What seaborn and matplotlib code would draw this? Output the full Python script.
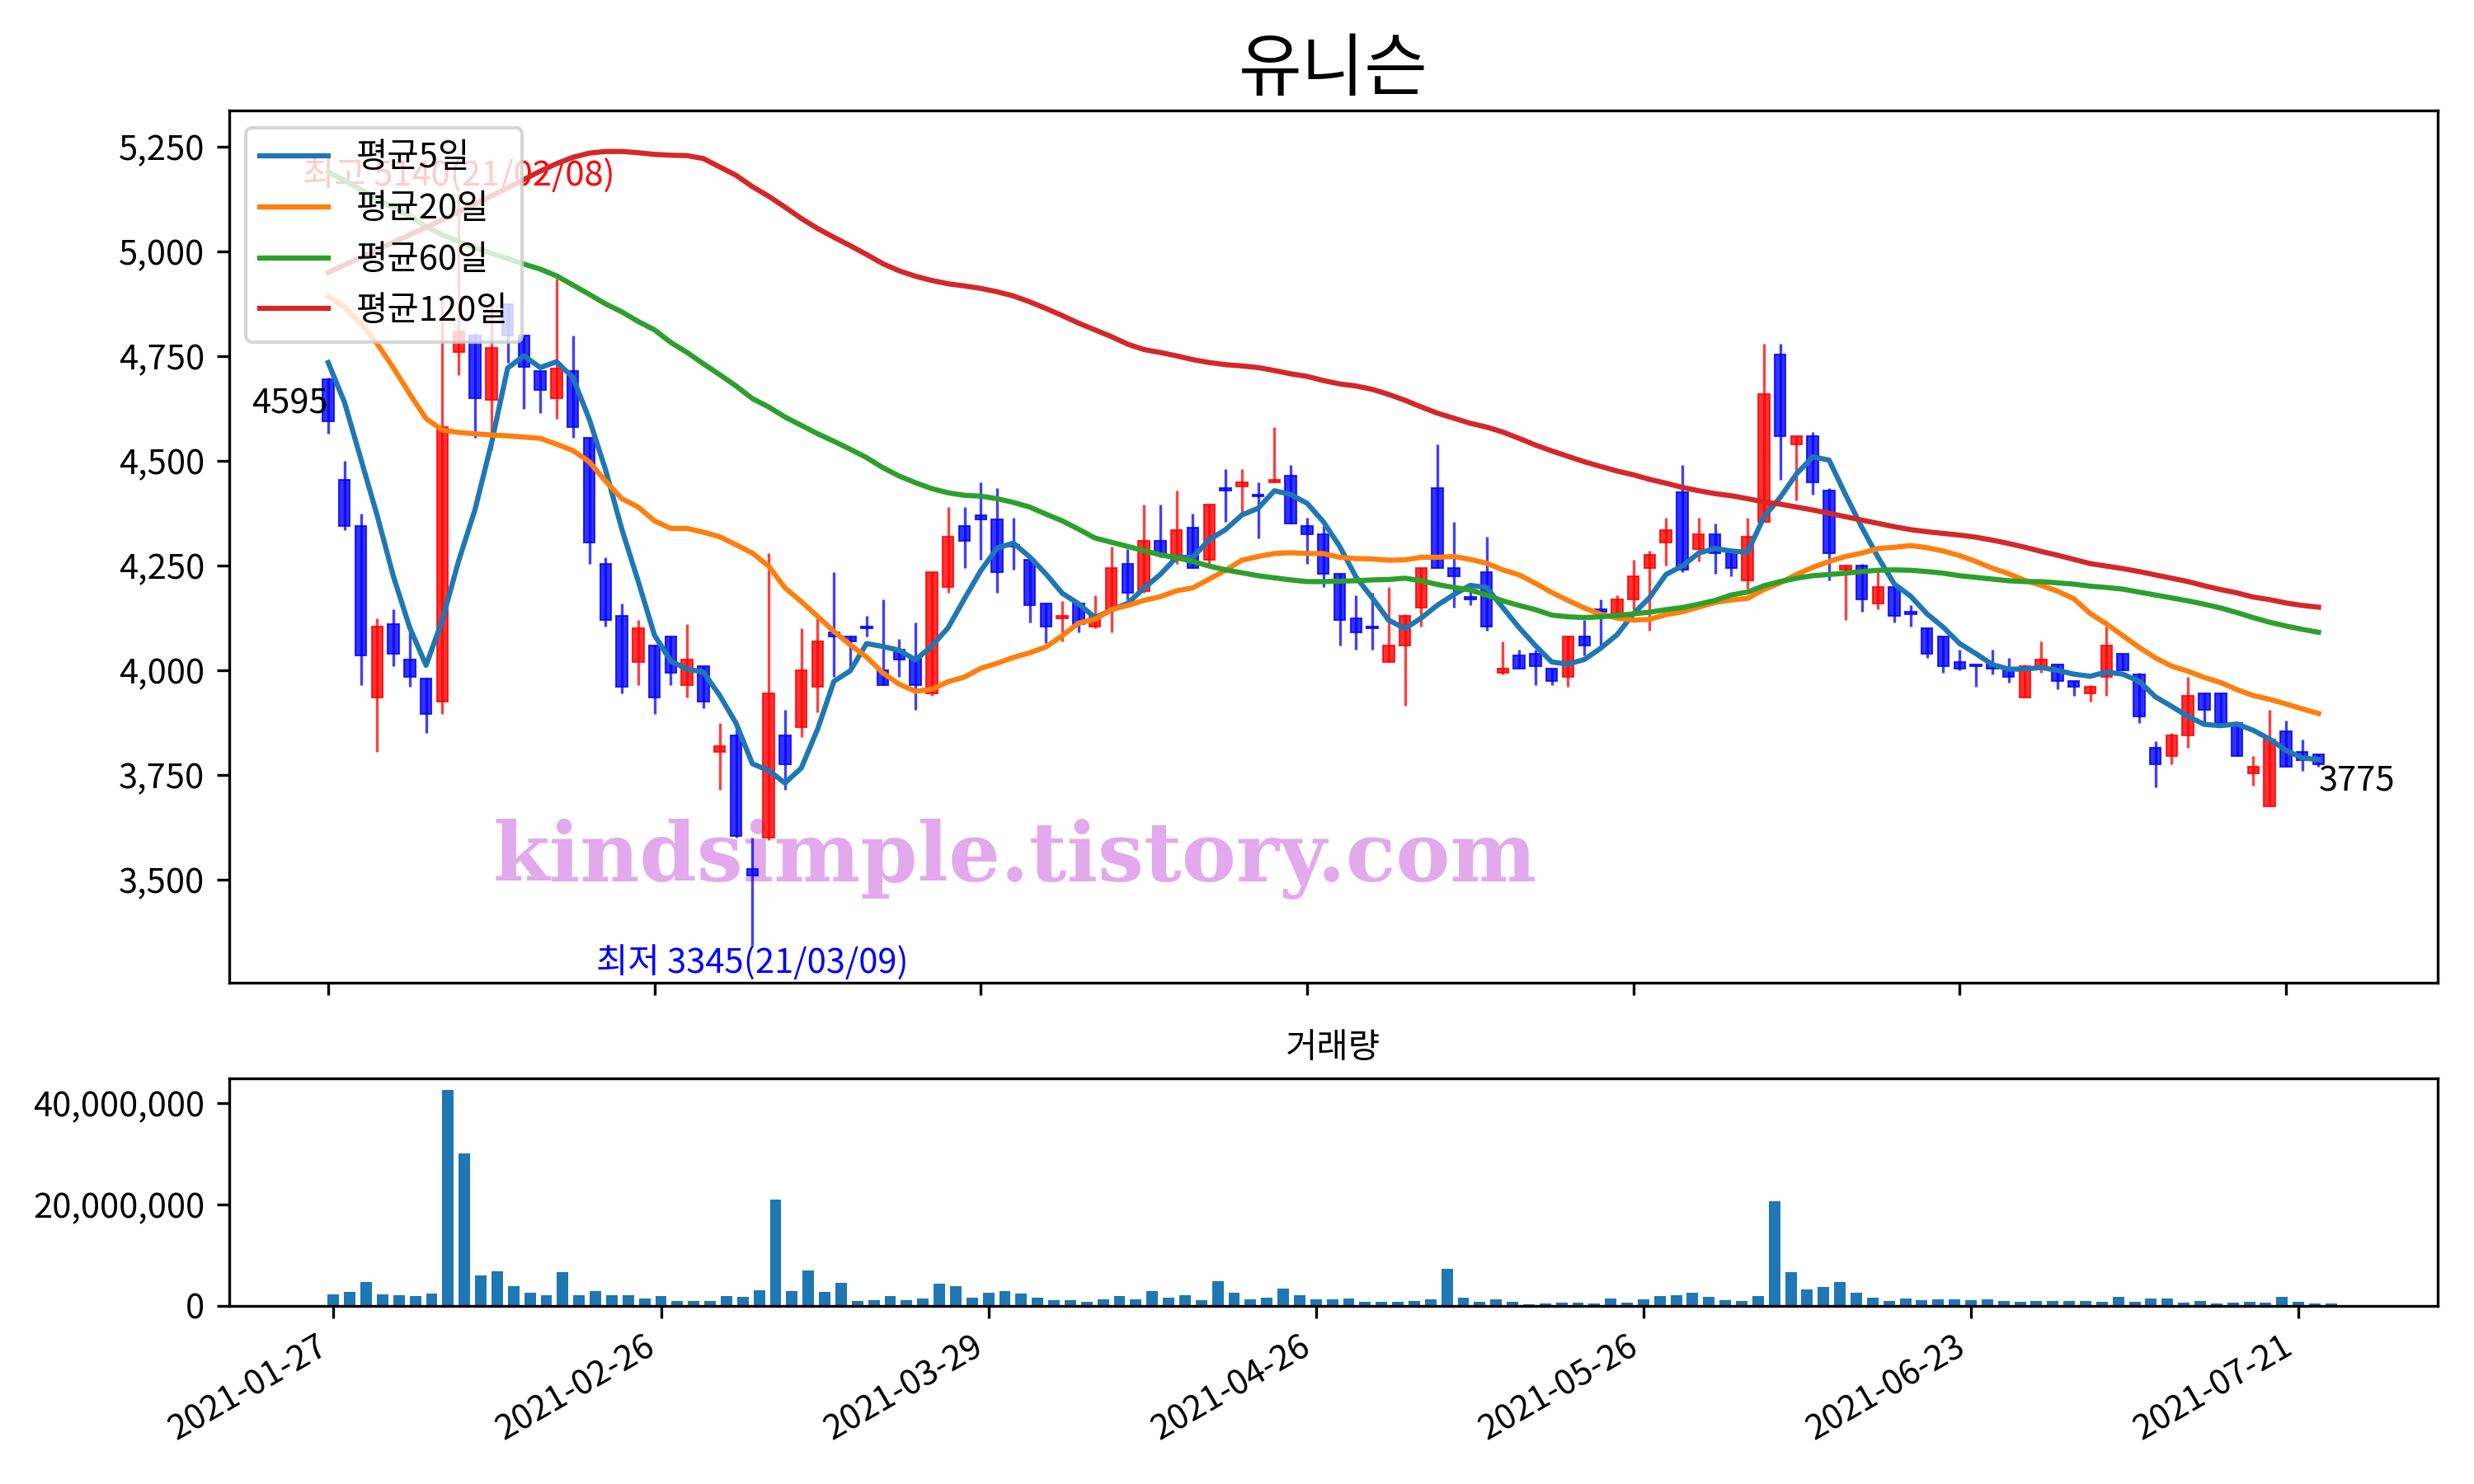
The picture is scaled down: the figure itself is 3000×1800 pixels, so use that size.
import numpy as np
import pandas as pd
import matplotlib
matplotlib.use('Agg')
import matplotlib.pyplot as plt
import seaborn as sns
from matplotlib.ticker import FuncFormatter

plt.rcParams['font.family'] = ['Noto Sans CJK KR', 'DejaVu Sans']
plt.rcParams['axes.unicode_minus'] = False

title = '유니슨'

# daily candles (2021-01-27 ~ 2021-07-23)
opens = [4695, 4455, 4345, 3935, 4110, 4025, 3980, 3925, 4760, 4800,
         4645, 4875, 4800, 4715, 4650, 4715, 4555, 4255, 4130, 4020,
         4060, 4080, 3965, 4010, 3805, 3845, 3525, 3600, 3845, 3865,
         3960, 4090, 4080, 4105, 4000, 4050, 4030, 3945, 4200, 4345,
         4370, 4360, 4300, 4265, 4160, 4125, 4160, 4105, 4145, 4255,
         4190, 4310, 4265, 4340, 4265, 4435, 4440, 4420, 4450, 4465,
         4345, 4325, 4230, 4125, 4105, 4020, 4060, 4150, 4435, 4245,
         4175, 4235, 3995, 4035, 4040, 4005, 3985, 4080, 4145, 4135,
         4170, 4245, 4305, 4425, 4290, 4325, 4280, 4215, 4355, 4755,
         4540, 4560, 4430, 4240, 4250, 4160, 4200, 4140, 4100, 4080,
         4020, 4015, 4015, 4000, 3935, 4010, 4015, 3975, 3945, 3985,
         4040, 3990, 3815, 3795, 3845, 3945, 3945, 3875, 3755, 3675,
         3855, 3805, 3800]
highs = [4700, 4500, 4375, 4125, 4145, 4095, 3980, 4895, 5140, 4805,
         4880, 4875, 4800, 4715, 4935, 4800, 4555, 4270, 4160, 4120,
         4060, 4080, 4110, 4010, 3875, 3860, 3600, 4280, 3905, 4100,
         4130, 4235, 4080, 4130, 4170, 4075, 4115, 4235, 4390, 4390,
         4450, 4435, 4365, 4265, 4160, 4165, 4160, 4180, 4295, 4290,
         4395, 4395, 4430, 4375, 4395, 4480, 4480, 4450, 4580, 4490,
         4365, 4345, 4230, 4180, 4185, 4200, 4135, 4245, 4540, 4355,
         4205, 4320, 4070, 4050, 4050, 4005, 4080, 4120, 4170, 4180,
         4265, 4285, 4365, 4490, 4365, 4350, 4280, 4365, 4780, 4780,
         4560, 4570, 4435, 4250, 4255, 4235, 4200, 4155, 4100, 4080,
         4050, 4015, 4050, 4030, 4015, 4070, 4015, 3975, 3965, 4105,
         4040, 3995, 3830, 3850, 3985, 3945, 3945, 3875, 3795, 3905,
         3880, 3835, 3800]
lows = [4565, 4335, 3965, 3805, 4010, 3960, 3850, 3895, 4705, 4555,
        4525, 4735, 4625, 4615, 4600, 4555, 4255, 4105, 3945, 3965,
        3895, 3965, 3935, 3910, 3715, 3600, 3345, 3595, 3715, 3840,
        3900, 3985, 4005, 4080, 3965, 3985, 3905, 3940, 4185, 4245,
        4265, 4185, 4240, 4115, 4065, 4070, 4090, 4100, 4090, 4170,
        4185, 4270, 4255, 4245, 4255, 4355, 4375, 4315, 4450, 4350,
        4255, 4200, 4060, 4050, 4050, 4020, 3915, 4105, 4245, 4150,
        4155, 4095, 3990, 4005, 3965, 3965, 3960, 4035, 4050, 4130,
        4145, 4095, 4250, 4235, 4260, 4230, 4225, 4195, 4355, 4455,
        4405, 4420, 4215, 4120, 4140, 4145, 4115, 4105, 4030, 3995,
        4000, 3960, 3990, 3970, 3935, 3995, 3955, 3940, 3925, 3940,
        4000, 3875, 3720, 3775, 3815, 3875, 3875, 3795, 3725, 3675,
        3770, 3760, 3770]
closes = [4595, 4345, 4035, 4105, 4040, 3985, 3895, 4580, 4810, 4650,
          4770, 4800, 4725, 4670, 4720, 4580, 4305, 4120, 3960, 4100,
          3935, 3995, 4025, 3925, 3820, 3605, 3510, 3945, 3775, 4000,
          4070, 4080, 4070, 4100, 3965, 4025, 3965, 4235, 4320, 4310,
          4360, 4235, 4295, 4155, 4105, 4130, 4110, 4130, 4245, 4185,
          4310, 4275, 4335, 4245, 4395, 4430, 4450, 4415, 4455, 4350,
          4325, 4230, 4120, 4090, 4100, 4060, 4130, 4245, 4245, 4225,
          4170, 4105, 4005, 4005, 4010, 3975, 4080, 4060, 4140, 4170,
          4225, 4275, 4335, 4240, 4325, 4280, 4245, 4320, 4660, 4560,
          4560, 4450, 4280, 4250, 4170, 4200, 4130, 4135, 4040, 4010,
          4005, 4010, 4005, 3985, 4010, 4025, 3975, 3960, 3960, 4060,
          4000, 3890, 3775, 3845, 3940, 3905, 3875, 3795, 3770, 3835,
          3770, 3785, 3775]

# moving averages as drawn on the chart
ma5 = [4735, 4640, 4505, 4370, 4224, 4102, 4012, 4121, 4262, 4384,
       4541, 4722, 4751, 4723, 4737, 4699, 4600, 4479, 4337, 4213,
       4084, 4022, 4003, 3996, 3940, 3874, 3777, 3761, 3731, 3767,
       3860, 3974, 3999, 4064, 4057, 4048, 4025, 4058, 4102, 4171,
       4238, 4292, 4304, 4271, 4230, 4184, 4159, 4126, 4144, 4160,
       4196, 4229, 4270, 4270, 4312, 4336, 4371, 4387, 4429, 4420,
       4399, 4355, 4296, 4223, 4173, 4120, 4100, 4125, 4156, 4181,
       4203, 4198, 4150, 4102, 4059, 4020, 4015, 4026, 4053, 4085,
       4135, 4174, 4229, 4249, 4280, 4291, 4285, 4282, 4366, 4413,
       4469, 4510, 4502, 4420, 4342, 4270, 4206, 4177, 4135, 4103,
       4064, 4040, 4014, 4003, 4003, 4007, 4000, 3991, 3986, 3996,
       3991, 3974, 3937, 3914, 3890, 3871, 3868, 3872, 3857, 3836,
       3809, 3791, 3787]
ma20 = [4892, 4868, 4828, 4780, 4722, 4660, 4601, 4574, 4568, 4565,
        4562, 4560, 4557, 4554, 4540, 4525, 4498, 4452, 4410, 4390,
        4357, 4339, 4339, 4330, 4319, 4300, 4280, 4249, 4197, 4164,
        4129, 4093, 4061, 4032, 3994, 3967, 3950, 3955, 3973, 3984,
        4005, 4017, 4031, 4042, 4056, 4083, 4113, 4122, 4145, 4155,
        4167, 4176, 4190, 4197, 4218, 4239, 4263, 4272, 4279, 4281,
        4279, 4279, 4270, 4267, 4266, 4263, 4264, 4270, 4270, 4272,
        4265, 4256, 4240, 4228, 4208, 4186, 4167, 4149, 4134, 4125,
        4120, 4122, 4133, 4140, 4151, 4162, 4168, 4172, 4193, 4209,
        4229, 4246, 4260, 4272, 4280, 4291, 4294, 4298, 4293, 4285,
        4274, 4260, 4244, 4231, 4215, 4203, 4189, 4171, 4136, 4111,
        4083, 4055, 4030, 4010, 3998, 3983, 3971, 3954, 3940, 3931,
        3920, 3908, 3897]
ma60 = [5190, 5170, 5148, 5126, 5105, 5084, 5060, 5040, 5024, 5009,
        4996, 4983, 4970, 4958, 4942, 4920, 4898, 4875, 4856, 4833,
        4813, 4783, 4759, 4732, 4706, 4679, 4649, 4629, 4605, 4585,
        4565, 4547, 4528, 4508, 4484, 4464, 4448, 4434, 4424, 4418,
        4416, 4410, 4401, 4390, 4373, 4357, 4337, 4316, 4306, 4296,
        4286, 4276, 4269, 4260, 4249, 4240, 4233, 4226, 4221, 4216,
        4212, 4212, 4213, 4214, 4216, 4217, 4220, 4214, 4205, 4198,
        4192, 4180, 4166, 4155, 4145, 4132, 4128, 4126, 4128, 4131,
        4135, 4139, 4145, 4150, 4158, 4167, 4180, 4187, 4202, 4212,
        4220, 4226, 4229, 4232, 4236, 4239, 4240, 4239, 4236, 4232,
        4226, 4222, 4218, 4214, 4212, 4212, 4209, 4206, 4201, 4198,
        4194, 4187, 4180, 4173, 4166, 4158, 4149, 4138, 4126, 4115,
        4106, 4098, 4091]
ma120 = [4950, 4968, 4986, 5004, 5022, 5040, 5058, 5076, 5095, 5114,
         5133, 5152, 5172, 5192, 5210, 5225, 5235, 5239, 5239, 5236,
         5232, 5230, 5229, 5222, 5202, 5182, 5155, 5132, 5106, 5079,
         5055, 5034, 5014, 4993, 4971, 4954, 4941, 4931, 4923, 4918,
         4912, 4904, 4894, 4880, 4864, 4847, 4829, 4813, 4797, 4779,
         4766, 4759, 4751, 4742, 4735, 4730, 4727, 4723, 4716, 4708,
         4702, 4692, 4684, 4679, 4671, 4659, 4645, 4629, 4614, 4602,
         4590, 4581, 4569, 4554, 4538, 4524, 4511, 4498, 4487, 4476,
         4467, 4456, 4447, 4437, 4429, 4422, 4417, 4410, 4402, 4397,
         4390, 4383, 4375, 4367, 4359, 4351, 4343, 4336, 4331, 4327,
         4323, 4318, 4311, 4303, 4294, 4284, 4275, 4265, 4255, 4249,
         4243, 4236, 4228, 4220, 4212, 4202, 4193, 4185, 4175, 4169,
         4161, 4155, 4151]

# volume in millions of shares
volume_m = [2.23, 2.72, 4.68, 2.23, 2.07, 1.91, 2.40, 42.76, 30.18, 5.99,
            6.81, 3.87, 2.56, 2.07, 6.65, 2.07, 2.89, 2.07, 2.07, 1.42,
            1.91, 0.93, 0.93, 0.93, 1.91, 1.74, 3.05, 21.03, 2.89, 6.97,
            2.72, 4.52, 0.93, 1.09, 1.91, 1.09, 1.42, 4.36, 3.87, 1.58,
            2.56, 2.89, 2.40, 1.58, 1.09, 1.09, 0.76, 1.25, 1.91, 1.25,
            2.89, 1.58, 2.07, 1.09, 4.85, 2.56, 1.25, 1.58, 3.38, 2.07,
            1.25, 1.25, 1.42, 0.76, 0.76, 0.76, 0.93, 1.25, 7.30, 1.58,
            0.76, 1.25, 0.76, 0.27, 0.44, 0.60, 0.60, 0.44, 1.42, 0.60,
            1.25, 1.91, 2.07, 2.56, 1.74, 1.09, 0.93, 1.91, 20.70, 6.65,
            3.21, 3.70, 4.68, 2.56, 1.58, 0.93, 1.42, 1.09, 1.25, 1.25,
            1.09, 1.25, 0.93, 0.76, 0.93, 0.93, 0.93, 0.93, 0.76, 1.74,
            0.76, 1.42, 1.42, 0.60, 0.93, 0.44, 0.60, 0.76, 0.60, 1.74,
            0.76, 0.44, 0.44]

tick_labels = ['2021-01-27', '2021-02-26', '2021-03-29', '2021-04-26',
               '2021-05-26', '2021-06-23', '2021-07-21']
ma_labels = ['평균5일', '평균20일', '평균60일', '평균120일']

df = pd.DataFrame({'open': opens, 'high': highs, 'low': lows, 'close': closes,
                   'ma5': ma5, 'ma20': ma20, 'ma60': ma60, 'ma120': ma120,
                   'volume': np.array(volume_m) * 1e6})
df['x'] = np.arange(len(df))
n = len(df)

fig = plt.figure(figsize=(10, 6), dpi=300)
ax = fig.add_axes([0.0925, 0.338, 0.8928, 0.5876])
ax2 = fig.add_axes([0.0925, 0.1201, 0.8928, 0.153])

# candles: red = up, blue = down
up = df['close'] >= df['open']
colors = np.where(up, 'r', 'b')
ax.vlines(df['x'], df['low'], df['high'], colors=colors, linewidth=0.8, alpha=0.75, zorder=2)
body_bottom = df[['open', 'close']].min(axis=1)
body_height = (df['close'] - df['open']).abs()
ax.bar(df['x'], body_height, bottom=body_bottom, width=0.68, color=colors,
       edgecolor=colors, linewidth=0.5, alpha=0.8, zorder=3)

# moving averages
for col, label, color in zip(['ma5', 'ma20', 'ma60', 'ma120'], ma_labels, ['C0', 'C1', 'C2', 'C3']):
    sns.lineplot(data=df, x='x', y=col, ax=ax, color=color, label=label,
                 linewidth=1.5, errorbar=None, zorder=4)

# annotations for the high / low / first / last
hi_i = int(df['high'].idxmax())
lo_i = int(df['low'].idxmin())
ax.text(hi_i, df['high'][hi_i], f"최고 {df['high'][hi_i]}(21/02/08)", color='r',
        ha='center', va='bottom', fontsize=10, zorder=3)
ax.text(lo_i, df['low'][lo_i], f"최저 {df['low'][lo_i]}(21/03/09)", color='b',
        ha='center', va='top', fontsize=10)
ax.text(0, df['close'][0], f"{df['close'][0]}", ha='right', va='bottom', fontsize=10)
ax.text(n - 1, df['close'][n - 1], f"{df['close'][n - 1]}", ha='left', va='top', fontsize=10)

ax.text(0.356, 0.141, 'kindsimple.tistory.com', transform=ax.transAxes,
        fontsize=23.8, fontweight='bold', family='DejaVu Serif', color='#e2a9ec',
        ha='center', va='center', zorder=1)

ax.set_title(title, fontsize=20)
ax.legend(loc='upper left', fontsize=10)
ax.set_xlim(-6.09, 129.3)
ax.set_ylim(3255, 5337)
ax.set_xticks(range(0, n, 20))
ax.tick_params(labelbottom=False)
ax.yaxis.set_major_formatter(FuncFormatter(lambda v, p: f'{v:,.0f}'))
ax.set_xlabel('')
ax.set_ylabel('')

# volume
ax2.bar(df['x'], df['volume'], width=0.7, color='C0')
ax2.set_title('거래량', fontsize=10)
ax2.set_xlim(-6.39, 128.5)
ax2.set_xticks(range(0, n, 20))
ax2.set_xticklabels(tick_labels, rotation=30, ha='right')
ax2.set_yticks([0, 20000000, 40000000])
ax2.yaxis.set_major_formatter(FuncFormatter(lambda v, p: f'{v:,.0f}'))

fig.savefig('out.png', dpi=300)
